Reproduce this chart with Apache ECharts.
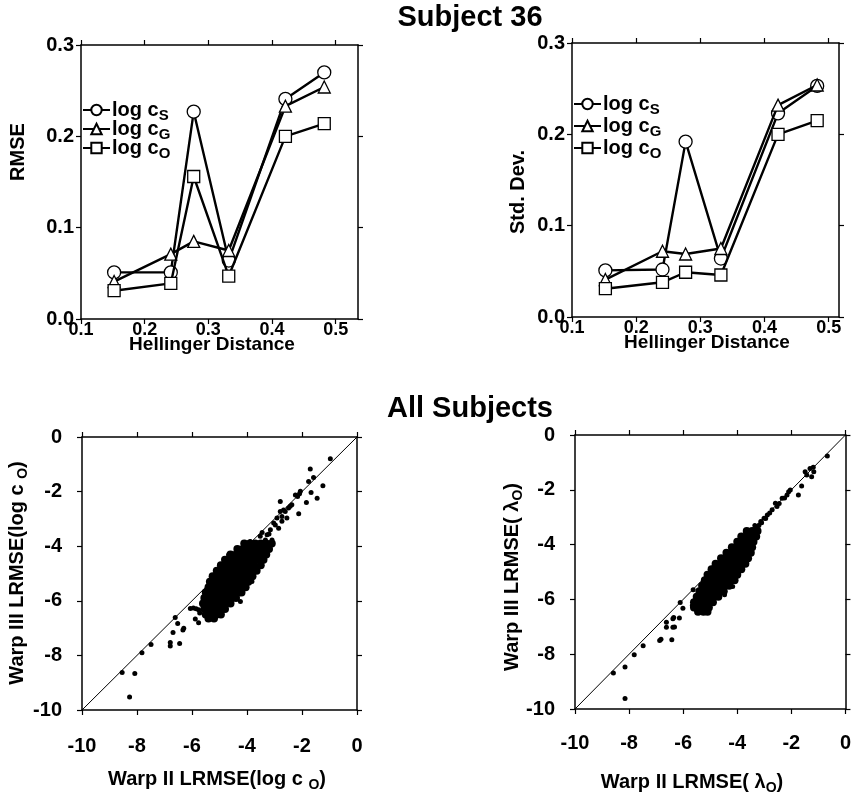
<!DOCTYPE html>
<html><head><meta charset="utf-8">
<script src="https://cdn.jsdelivr.net/npm/echarts@6/dist/echarts.min.js"></script>
<style>html,body{margin:0;padding:0;background:#fff}#c{width:854px;height:801px}</style>
</head><body><div id="c"></div>
<script>
// ---------- data ----------
const hellinger = [0.152, 0.241, 0.277, 0.332, 0.421, 0.482];
const rmseLogCS = [0.051, 0.051, 0.227, 0.064, 0.241, 0.270];
const rmseLogCG = [0.041, 0.071, 0.085, 0.075, 0.233, 0.254];
const rmseLogCO = [0.031, 0.039, 0.156, 0.047, 0.200, 0.214];
const sdLogCS = [0.051, 0.052, 0.192, 0.064, 0.223, 0.253];
const sdLogCG = [0.041, 0.072, 0.069, 0.075, 0.232, 0.254];
const sdLogCO = [0.031, 0.038, 0.049, 0.046, 0.200, 0.215];
const topXTicks = [0.1, 0.2, 0.3, 0.4, 0.5];
const seriesNames = ['log cS', 'log cG', 'log cO'];

const diagLine = [[-10, -10], [0, 0]];

// All subjects, log c_O : scattered points
const coPoints = [
  [-0.97,-0.80],[-1.70,-1.17],[-1.58,-1.48],[-1.76,-1.63],[-1.24,-1.79],[-1.67,-2.03],
  [-1.45,-2.24],[-1.84,-2.40],[-2.09,-2.08],[-2.16,-2.18],[-2.24,-2.12],[-2.06,-1.99],
  [-2.12,-2.81],[-2.79,-2.36],[-2.43,-2.54],[-2.49,-2.60],[-2.37,-2.48],[-2.67,-2.67],
  [-2.61,-2.73],[-2.79,-2.73],[-2.73,-2.91],[-2.55,-2.97],[-2.91,-2.97],[-3.03,-3.15],
  [-2.97,-3.22],[-2.85,-3.34],[-3.15,-3.40],[-2.73,-3.09],[-3.27,-3.58],[-3.52,-3.64],
  [-3.09,-3.77],[-3.33,-3.77],[-3.88,-3.83],[-3.64,-3.89],[-3.40,-4.01],[-4.12,-3.95],
  [-3.76,-4.01],[-3.45,-3.50],[-3.20,-3.55],
  [-4.67,-4.32],[-3.82,-5.29],[-4.24,-6.03],[-4.61,-6.03],
  [-6.06,-6.28],[-5.95,-6.26],[-5.85,-6.29],[-5.76,-6.33],[-5.72,-6.45],[-5.88,-6.67],
  [-5.76,-6.80],[-6.61,-6.61],[-6.52,-6.83],[-6.30,-7.01],[-6.33,-7.07],[-6.69,-7.16],
  [-6.79,-7.53],[-6.79,-7.66],[-6.45,-7.56],[-7.49,-7.60],[-7.82,-7.90],[-8.54,-8.63],
  [-8.08,-8.66],[-8.27,-9.52]
];
// dense core of the log c_O cloud, read row by row: [y, [x...]]
const coCoreRows = [
  [-3.9, [-4.1,-3.9,-3.7,-3.5,-3.3,-3.1]],
  [-4.1, [-4.35,-4.15,-3.95,-3.75,-3.55,-3.35,-3.2]],
  [-4.3, [-4.6,-4.4,-4.2,-4.0,-3.8,-3.6,-3.4,-3.3]],
  [-4.5, [-4.8,-4.6,-4.4,-4.2,-4.0,-3.8,-3.6,-3.4]],
  [-4.7, [-4.95,-4.75,-4.55,-4.35,-4.15,-3.95,-3.75,-3.5]],
  [-4.9, [-5.1,-4.9,-4.7,-4.5,-4.3,-4.1,-3.9,-3.65]],
  [-5.1, [-5.25,-5.05,-4.85,-4.65,-4.45,-4.25,-4.05,-3.8]],
  [-5.3, [-5.35,-5.15,-4.95,-4.75,-4.55,-4.35,-4.15,-3.95]],
  [-5.5, [-5.4,-5.2,-5.0,-4.8,-4.6,-4.4,-4.2,-4.05]],
  [-5.7, [-5.5,-5.3,-5.1,-4.9,-4.7,-4.5,-4.3,-4.2]],
  [-5.9, [-5.55,-5.35,-5.15,-4.95,-4.75,-4.55,-4.4]],
  [-6.1, [-5.6,-5.4,-5.2,-5.0,-4.8,-4.6]],
  [-6.3, [-5.55,-5.35,-5.15,-4.95,-4.8]],
  [-6.5, [-5.5,-5.3,-5.1,-4.95]],
  [-6.65, [-5.4,-5.2]]
];

// All subjects, lambda_O : scattered points
const lamPoints = [
  [-0.67,-0.77],[-1.49,-1.34],[-1.31,-1.22],[-1.19,-1.18],[-1.17,-1.34],[-1.43,-1.46],
  [-1.25,-1.52],[-1.62,-1.86],[-1.74,-2.19],[-2.10,-2.07],[-2.04,-2.01],[-2.16,-2.19],
  [-2.34,-2.31],[-2.53,-2.61],[-2.59,-2.49],[-2.71,-2.73],[-2.89,-2.92],[-3.01,-3.04],
  [-3.13,-3.16],[-3.26,-3.34],[-3.38,-3.46],[-2.25,-2.30],[-2.45,-2.50],[-2.80,-2.85],
  [-2.95,-3.05],[-3.20,-3.30],[-3.35,-3.30],[-3.10,-3.20],
  [-4.85,-4.75],[-4.47,-5.83],[-4.17,-5.53],[-5.63,-5.65],
  [-6.11,-6.11],[-6.01,-6.32],[-5.66,-6.22],[-6.62,-6.83],[-6.38,-6.71],[-6.35,-6.66],
  [-6.14,-6.68],[-6.62,-7.02],[-6.38,-7.02],[-6.32,-7.01],[-6.87,-7.50],[-6.82,-7.45],
  [-6.42,-7.47],[-7.48,-7.69],[-7.81,-8.02],[-8.15,-8.47],[-8.58,-8.69],[-8.15,-9.62]
];
const lamCoreRows = [
  [-3.5, [-3.65,-3.45,-3.25]],
  [-3.7, [-3.85,-3.65,-3.45,-3.3]],
  [-3.9, [-4.0,-3.8,-3.6,-3.4]],
  [-4.1, [-4.2,-4.0,-3.8,-3.6,-3.45]],
  [-4.3, [-4.4,-4.2,-4.0,-3.8,-3.6,-3.5]],
  [-4.5, [-4.6,-4.4,-4.2,-4.0,-3.8,-3.6]],
  [-4.7, [-4.8,-4.6,-4.4,-4.2,-4.0,-3.8,-3.7]],
  [-4.9, [-4.95,-4.75,-4.55,-4.35,-4.15,-3.95,-3.85]],
  [-5.1, [-5.1,-4.9,-4.7,-4.5,-4.3,-4.1,-4.0]],
  [-5.3, [-5.2,-5.0,-4.8,-4.6,-4.4,-4.2,-4.1]],
  [-5.5, [-5.3,-5.1,-4.9,-4.7,-4.5,-4.3]],
  [-5.7, [-5.4,-5.2,-5.0,-4.8,-4.6,-4.5]],
  [-5.9, [-5.5,-5.3,-5.1,-4.9,-4.7]],
  [-6.1, [-5.6,-5.4,-5.2,-5.0,-4.9]],
  [-6.3, [-5.6,-5.4,-5.2,-5.05]],
  [-6.45, [-5.45,-5.25,-5.1]]
];

// ---------- build ----------
const FONT = 'Liberation Sans, Arial, Helvetica, sans-serif';
const rowsToPts = rows => rows.flatMap(([y, xs]) => xs.map(x => [x, y]));
const pair = (xs, ys) => xs.map((x, i) => [x, ys[i]]);

const grids = [
  {left: 81, top: 45, width: 277, height: 274},
  {left: 572, top: 43, width: 267, height: 274},
  {left: 82, top: 437, width: 275, height: 273},
  {left: 575, top: 435, width: 274, height: 274}
];
const lineCol = '#000';
const lab = (size, margin, fmt) => ({show: true, margin, formatter: fmt, color: '#000',
  fontFamily: FONT, fontWeight: 'bold', fontSize: size});

function xAxes(gi, min, max, interval, label, custom) {
  const base = {
    type: 'value', gridIndex: gi, min, max, interval,
    splitLine: {show: false},
    axisLine: {show: true, onZero: false, lineStyle: {color: lineCol, width: 1.5}},
    axisTick: {show: true, length: 5, lineStyle: {color: lineCol, width: 1.2}}
  };
  if (custom) base.axisTick.customValues = custom;
  if (custom) label.customValues = custom;
  const bottom = Object.assign({}, base, {position: 'bottom', axisLabel: label});
  const top = Object.assign({}, base, {position: 'top', axisLabel: {show: false}});
  return [bottom, top];
}
function yAxes(gi, min, max, interval, label) {
  const base = {
    type: 'value', gridIndex: gi, min, max, interval,
    splitLine: {show: false},
    axisLine: {show: true, onZero: false, lineStyle: {color: lineCol, width: 1.5}},
    axisTick: {show: true, length: 5, lineStyle: {color: lineCol, width: 1.2}}
  };
  const left = Object.assign({}, base, {position: 'left', axisLabel: label});
  const right = Object.assign({}, base, {position: 'right', axisLabel: {show: false}});
  return [left, right];
}

const f1 = v => v.toFixed(1);
const f0 = v => String(Math.round(v));
const xAxis = [
  ...xAxes(0, 0.1, 0.535, 0.1, lab(18, 2, f1), topXTicks),
  ...xAxes(1, 0.1, 0.516, 0.1, lab(18, 2, f1), topXTicks),
  ...xAxes(2, -10, 0, 2, lab(20, 26, f0)),
  ...xAxes(3, -10, 0, 2, lab(20, 24, f0))
];
const yAxis = [
  ...yAxes(0, 0, 0.3, 0.1, lab(20, 7, f1)),
  ...yAxes(1, 0, 0.3, 0.1, lab(20, 7, f1)),
  ...yAxes(2, -10, 0, 2, lab(20, 20, f0)),
  ...yAxes(3, -10, 0, 2, lab(20, 20, f0))
];

const symbols = ['circle', 'triangle', 'rect'];
const symSizes = [13, 12, 12];
function lineSeries(ai, ys, k) {
  return {
    type: 'line', name: seriesNames[k], xAxisIndex: ai, yAxisIndex: ai,
    data: pair(hellinger, ys), symbol: symbols[k], symbolSize: symSizes[k],
    showAllSymbol: true,
    lineStyle: {color: '#000', width: 2.4},
    itemStyle: {color: '#fff', borderColor: '#000', borderWidth: 1.3},
    z: 3 + k, animation: false
  };
}
function scatterSeries(ai, data, size) {
  return {type: 'scatter', xAxisIndex: ai, yAxisIndex: ai, data, symbolSize: size,
    itemStyle: {color: '#000', opacity: 1}, animation: false, silent: true};
}
function diagSeries(ai) {
  return {type: 'line', xAxisIndex: ai, yAxisIndex: ai, data: diagLine, symbol: 'none',
    lineStyle: {color: '#000', width: 1}, animation: false, silent: true, z: 1};
}

const series = [
  lineSeries(0, rmseLogCS, 0), lineSeries(0, rmseLogCG, 1), lineSeries(0, rmseLogCO, 2),
  lineSeries(2, sdLogCS, 0), lineSeries(2, sdLogCG, 1), lineSeries(2, sdLogCO, 2),
  diagSeries(4), scatterSeries(4, rowsToPts(coCoreRows), 8), scatterSeries(4, coPoints, 5),
  diagSeries(6), scatterSeries(6, rowsToPts(lamCoreRows), 8), scatterSeries(6, lamPoints, 5)
];

const legendRich = {
  a: {fontFamily: FONT, fontWeight: 'bold', fontSize: 20, lineHeight: 18, color: '#000'},
  b: {fontFamily: FONT, fontWeight: 'bold', fontSize: 15, lineHeight: 18, padding: [11, 0, 0, 0], color: '#000'}
};
function legend(left, top, gap) {
  return {
    orient: 'vertical', left, top, itemWidth: 27, itemHeight: 13, itemGap: gap,
    data: seriesNames, selectedMode: false,
    formatter: n => '{a|log c}{b|' + n.slice(-1) + '}',
    textStyle: {rich: legendRich, padding: [0, 0, 0, -3]}
  };
}

const nameRich = {
  n: {fontFamily: FONT, fontWeight: 'bold', fontSize: 20, lineHeight: 26, color: '#000'},
  s: {fontFamily: FONT, fontWeight: 'bold', fontSize: 14, lineHeight: 12, verticalAlign: 'bottom', color: '#000'}
};
function txt(x, y, text, opts) {
  return Object.assign({type: 'text', x, y, style: Object.assign({
    text, fill: '#000', align: 'center', verticalAlign: 'middle', rich: nameRich,
    font: 'bold 20px ' + FONT}, (opts && opts.style) || {})}, (opts && opts.el) || {});
}
const R = Math.PI / 2;
const graphic = [
  txt(470, 18, 'Subject 36', {style: {font: 'bold 29px ' + FONT}}),
  txt(470, 409, 'All Subjects', {style: {font: 'bold 29px ' + FONT}}),
  txt(18, 152, 'RMSE', {el: {rotation: R}}),
  txt(518, 192, 'Std. Dev.', {el: {rotation: R}}),
  txt(212, 345, 'Hellinger Distance', {style: {font: 'bold 19px ' + FONT}}),
  txt(707, 343, 'Hellinger Distance', {style: {font: 'bold 19px ' + FONT}}),
  txt(17, 573, '{n|Warp III LRMSE(log c }{s|O}{n|)}', {el: {rotation: R}}),
  txt(217, 779, '{n|Warp II LRMSE(log c }{s|O}{n|)}'),
  txt(512, 577, '{n|Warp III LRMSE( λ}{s|O}{n|)}', {el: {rotation: R}}),
  txt(692, 782, '{n|Warp II LRMSE( λ}{s|O}{n|)}')
];

const chart = echarts.init(document.getElementById('c'), null, {renderer: 'canvas'});
chart.setOption({
  backgroundColor: '#fff',
  animation: false,
  grid: grids,
  xAxis, yAxis, series,
  legend: [legend(77, 92, -7), legend(568, 86, -4)],
  graphic
});
</script></body></html>
